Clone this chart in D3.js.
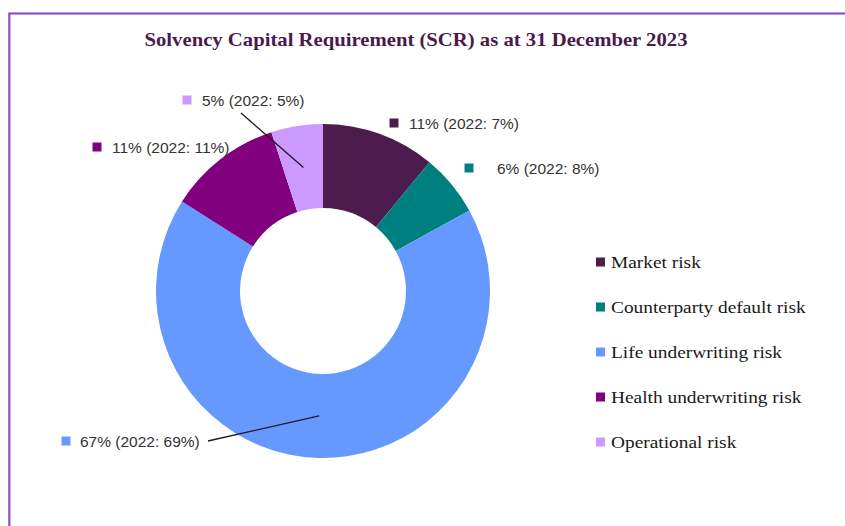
<!DOCTYPE html>
<html><head><meta charset="utf-8">
<script src="https://cdn.jsdelivr.net/npm/d3@7"></script>
<style>html,body{margin:0;padding:0;background:#fff;}svg{display:block;}</style>
</head><body>
<svg id="chart" width="845" height="526"></svg>
<script>
// ---- data ----
const categories = ["Market risk", "Counterparty default risk", "Life underwriting risk", "Health underwriting risk", "Operational risk"];
const values2023 = [11, 6, 67, 11, 5];
const values2022 = [7, 8, 69, 11, 5];
const colors = ["#4B1C4D", "#007F80", "#6699FF", "#800080", "#CC99FF"];
const titleText = "Solvency Capital Requirement (SCR) as at 31 December 2023";

// ---- layout ----
const W = 845, H = 526;
const cx = 323, cy = 291, rOuter = 167, rInner = 83;
const labelLayout = [
  {sx: 394, sy: 123, tx: 409, lead: null},
  {sx: 469, sy: 168, tx: 497, lead: null},
  {sx: 66,  sy: 441, tx: 80,  lead: [208, 441]},
  {sx: 97,  sy: 147, tx: 112, lead: null},
  {sx: 187, sy: 100, tx: 202, lead: [241, 113]}
];

const svg = d3.select("#chart");
svg.append("rect").attr("width", W).attr("height", H).attr("fill", "#fff");

// frame
svg.append("rect").attr("x", 9.3).attr("y", 13.5).attr("width", W + 20).attr("height", H + 20)
  .attr("fill", "none").attr("stroke", "#8C52C2").attr("stroke-width", 2.2);

// title
svg.append("text").attr("x", 416).attr("y", 46).attr("text-anchor", "middle")
  .attr("font-family", "Liberation Serif, serif").attr("font-weight", "bold")
  .attr("font-size", 19.5).attr("fill", "#4A1A4C")
  .attr("textLength", 543).attr("lengthAdjust", "spacingAndGlyphs")
  .text(titleText);

const pie = d3.pie().sort(null).value(d => d)(values2023);
const arc = d3.arc().innerRadius(rInner).outerRadius(rOuter);

const g = svg.append("g").attr("transform", `translate(${cx},${cy})`);
g.selectAll("path").data(pie).join("path")
  .attr("d", arc).attr("fill", (d, i) => colors[i]);

// leader lines
pie.forEach((d, i) => {
  const L = labelLayout[i];
  if (!L.lead) return;
  const c = arc.centroid(d);
  svg.append("line")
    .attr("x1", L.lead[0]).attr("y1", L.lead[1])
    .attr("x2", cx + c[0]).attr("y2", cy + c[1])
    .attr("stroke", "#1a1a1a").attr("stroke-width", 1.3);
});

// data labels
const sq = 9;
values2023.forEach((v, i) => {
  const L = labelLayout[i];
  svg.append("rect").attr("x", L.sx - sq / 2).attr("y", L.sy - sq / 2)
    .attr("width", sq).attr("height", sq).attr("fill", colors[i]);
  svg.append("text").attr("x", L.tx).attr("y", L.sy).attr("dy", "0.36em")
    .attr("font-family", "Liberation Sans, Arial, sans-serif").attr("font-size", 15.5)
    .attr("fill", "#333")
    .text(`${v}% (2022: ${values2022[i]}%)`);
});

// legend
const legend = svg.append("g");
categories.forEach((c, i) => {
  const y = 262 + i * 45;
  legend.append("rect").attr("x", 596).attr("y", y - 4.5).attr("width", 9).attr("height", 9).attr("fill", colors[i]);
  legend.append("text").attr("transform", `translate(611,${y}) scale(1.14,1)`).attr("dy", "0.33em")
    .attr("font-family", "Liberation Serif, serif").attr("font-size", 17)
    .attr("fill", "#1a1a1a").text(c);
});
</script>
</body></html>
